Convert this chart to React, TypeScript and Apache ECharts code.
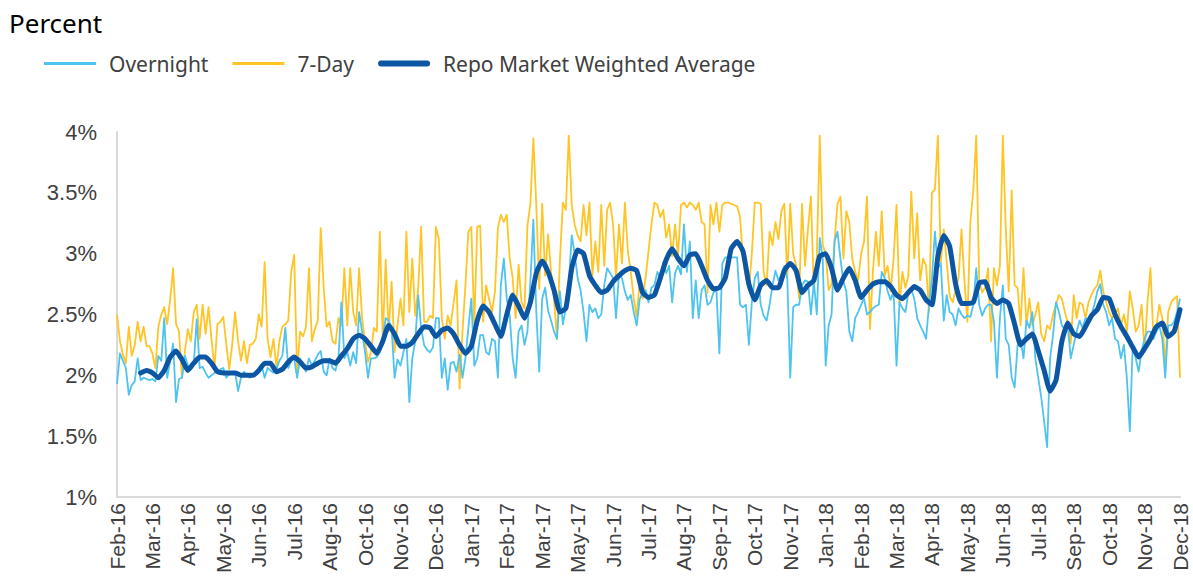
import React, { useEffect, useRef } from "react";
import * as echarts from "echarts";

// X tick labels (one label every STEP daily points)
const tickLabels = [
  "Feb-16", "Mar-16", "Apr-16", "May-16", "Jun-16", "Jul-16", "Aug-16", "Oct-16", "Nov-16", "Dec-16",
  "Jan-17", "Feb-17", "Mar-17", "May-17", "Jun-17", "Jul-17", "Aug-17", "Sep-17", "Oct-17", "Nov-17",
  "Jan-18", "Feb-18", "Mar-18", "Apr-18", "May-18", "Jun-18", "Jul-18", "Sep-18", "Oct-18", "Nov-18",
  "Dec-18",
];
const STEP = 12;

// Overnight rate, percent
const overnight = [
  1.93,2.18,2.12,2.06,1.84,1.92,1.95,2.14,1.96,1.98,
  1.97,1.96,1.97,1.95,2.16,2.12,2.47,1.98,2.12,2.26,
  1.78,1.97,1.98,2.16,2.08,2.05,2.10,2.46,2.06,2.07,
  2.02,1.98,2.00,2.02,2.03,2.05,2.06,1.98,2.01,2.02,
  2.03,1.87,1.98,2.03,2.00,1.98,2.00,2.02,2.04,2.08,
  1.98,2.06,2.04,2.02,2.05,2.12,2.16,2.39,2.06,2.12,
  2.14,1.98,2.14,2.08,2.03,2.14,2.08,2.12,2.17,2.20,
  2.03,2.00,2.14,
  2.06,2.04,2.14,2.60,2.14,2.19,2.08,2.19,2.10,2.52,
  2.36,2.19,1.98,2.14,2.14,2.15,2.19,2.30,2.47,2.45,
  2.39,1.98,2.13,2.08,2.19,2.30,1.78,2.14,2.28,2.66,
  2.39,2.25,2.21,2.19,2.23,2.47,2.47,1.98,2.14,1.88,
  2.10,2.11,2.03,2.17,1.98,2.14,2.39,2.63,2.08,2.14,
  2.33,2.33,2.19,2.17,2.30,2.28,1.98,2.74,2.96,2.63,
  2.49,2.14,1.98,2.36,2.41,2.25,2.36,2.77,3.28,2.52,
  2.03,2.63,
  2.72,2.53,2.45,2.36,2.30,2.69,2.42,2.55,2.75,3.15,
  3.00,2.80,2.70,2.52,2.28,2.58,2.52,2.55,2.47,2.50,
  2.74,2.88,2.84,2.80,2.47,2.83,2.80,2.69,2.62,2.66,
  2.52,2.41,2.62,2.69,2.70,2.60,2.72,2.74,2.85,2.80,
  2.93,2.84,2.90,2.60,2.84,2.90,2.83,3.24,2.85,3.10,
  2.47,2.78,2.47,2.70,2.74,2.58,2.60,2.68,2.70,2.18,
  2.92,2.97,2.97,2.97,2.97,2.97,2.58,2.56,2.58,2.25,
  2.60,2.80,2.85,
  2.58,2.49,2.45,2.58,2.74,2.86,2.78,2.83,2.90,2.80,
  1.98,2.56,2.58,2.58,2.74,2.78,2.77,2.50,2.77,2.50,
  3.13,2.96,2.08,2.41,2.50,3.10,3.18,2.96,2.77,2.69,
  2.36,2.28,2.47,2.52,2.58,2.63,2.50,2.52,2.55,2.57,
  2.58,2.85,2.80,2.69,2.62,2.69,2.08,2.60,2.55,2.52,
  2.68,2.71,2.63,2.47,2.41,2.36,2.30,2.58,2.80,3.18,
  2.88,2.92,2.45,2.66,2.52,2.50,2.41,2.55,2.50,2.47,
  2.49,2.48,
  2.58,2.88,2.58,2.49,2.55,2.58,2.58,2.44,1.98,2.47,
  2.74,2.30,2.25,1.98,1.90,2.25,2.30,2.14,2.45,2.39,
  2.52,2.14,1.98,1.82,1.62,1.41,2.14,2.33,2.60,2.52,
  2.41,2.38,2.40,2.14,2.25,2.36,2.45,2.39,2.47,2.44,
  2.50,2.58,2.69,2.75,2.58,2.52,2.41,2.47,2.30,2.28,
  2.14,2.25,1.98,1.54,2.25,2.14,2.03,2.20,2.30,2.36,
  2.36,2.30,2.36,2.41,2.30,1.98,2.41,2.41,2.44,2.52,
  2.63,
];

// 7-Day rate, percent
const sevenDay = [
  2.50,2.28,2.17,2.10,2.40,2.16,2.25,2.44,2.28,2.40,
  2.24,2.24,2.18,2.06,2.40,2.50,2.56,2.42,2.62,2.88,
  2.42,2.36,1.98,2.20,2.38,2.28,2.52,2.58,2.30,2.58,
  2.34,2.56,2.30,2.05,2.42,2.44,2.48,2.26,2.05,2.25,
  2.52,2.28,2.12,2.28,2.10,2.25,2.26,2.30,2.50,2.40,
  2.93,2.30,2.15,2.30,2.06,2.28,2.40,2.42,2.45,2.85,
  2.99,2.02,2.36,2.32,2.40,2.88,2.28,2.38,2.45,3.21,
  2.72,2.40,2.44,
  2.28,2.26,2.47,2.41,2.88,2.41,2.88,2.52,2.41,2.88,
  2.47,2.28,2.11,2.19,2.39,2.36,3.18,2.30,2.95,2.36,
  2.77,2.19,2.41,2.63,2.41,3.18,2.52,2.96,2.49,2.71,
  3.22,2.44,2.44,2.49,2.47,3.22,3.12,2.47,2.30,2.49,
  2.41,2.60,2.78,1.89,2.36,2.74,3.18,3.22,2.41,3.22,
  3.23,2.44,2.74,2.63,2.52,2.69,3.21,3.32,3.26,3.32,
  2.96,2.80,2.47,2.91,2.60,2.55,3.23,3.41,3.95,3.40,
  2.71,3.41,
  2.82,3.16,2.85,2.63,2.30,2.95,3.42,3.36,3.97,3.40,
  3.24,3.15,3.10,3.40,3.15,3.42,2.82,3.10,2.85,3.40,
  2.90,3.36,3.42,3.24,2.80,3.24,2.92,3.42,3.02,2.85,
  2.63,2.48,2.77,2.63,2.80,3.02,3.24,3.42,3.40,3.30,
  3.36,3.13,3.24,2.98,3.24,2.98,3.40,3.42,3.38,3.42,
  3.40,3.36,3.42,3.26,3.24,2.68,3.40,3.24,3.42,3.18,
  3.40,3.42,3.42,3.41,3.40,3.39,3.30,2.96,2.80,2.70,
  3.00,3.42,3.42,
  3.41,2.85,2.74,3.18,3.07,3.26,3.12,3.35,3.41,2.80,
  3.41,3.00,2.90,2.63,3.41,2.90,3.20,3.47,2.70,2.98,
  3.97,3.07,3.00,2.70,2.75,3.10,3.41,3.47,2.96,3.35,
  3.26,2.96,2.85,2.78,3.00,3.10,3.47,2.38,2.85,3.18,
  2.90,3.35,2.82,2.90,2.69,2.96,3.40,2.58,2.85,2.72,
  2.82,3.51,2.96,3.33,2.78,2.96,2.90,2.52,3.50,3.53,
  3.97,2.93,3.20,2.93,2.65,2.60,2.70,2.80,3.20,2.78,
  2.44,3.26,
  3.52,3.97,2.77,2.68,2.72,2.88,2.28,2.88,2.74,2.90,
  3.97,3.20,2.69,3.52,2.74,2.72,2.41,2.88,2.41,2.63,
  2.41,2.50,2.60,2.34,2.28,2.41,2.38,2.50,2.58,2.66,
  2.63,2.52,2.43,2.26,2.66,2.47,2.60,2.58,2.47,2.60,
  2.66,2.71,2.74,2.86,2.69,2.60,2.52,2.47,2.50,2.55,
  2.41,2.50,2.36,2.69,2.55,2.36,2.41,2.58,2.19,2.60,
  2.88,2.30,2.40,2.58,2.47,2.08,2.52,2.60,2.63,2.65,
  1.98,
];

// Repo market weighted average, percent (coarser sampling, own hidden axis)
const weightedAvg = [
  null, null, null, null,
  2.02,2.04,2.02,1.98,2.04,2.15,2.20,2.13,2.04,2.10,2.15,2.15,2.10,2.03,2.02,2.02,
  2.02,2.00,2.00,2.00,2.04,2.10,2.10,2.03,2.05,2.11,2.15,2.11,2.06,2.07,2.10,2.12,2.12,
  2.10,2.16,2.22,2.30,2.33,2.30,2.24,2.18,2.28,2.41,2.34,2.24,2.24,2.27,2.34,2.40,2.39,2.32,
  2.37,2.39,2.34,2.25,2.18,2.24,2.45,2.57,2.52,2.42,2.32,2.50,2.66,2.57,2.47,2.60,2.84,2.94,
  2.85,2.70,2.52,2.55,2.88,3.03,3.00,2.82,2.74,2.68,2.70,2.77,2.82,2.86,2.88,2.86,2.68,2.64,
  2.66,2.80,2.95,3.04,2.96,2.90,2.99,3.00,2.90,2.78,2.71,2.72,2.80,3.04,3.10,3.02,2.75,2.62,
  2.74,2.78,2.72,2.72,2.86,2.92,2.86,2.68,2.74,2.78,2.98,3.00,2.88,2.70,2.80,2.88,2.78,2.64,
  2.70,2.75,2.77,
  2.77,2.73,2.66,2.63,2.68,2.73,2.70,2.62,2.58,2.98,3.15,3.06,2.75,2.59,2.59,
  2.60,2.76,2.77,2.64,2.59,2.62,2.59,2.42,2.25,2.30,2.34,2.20,2.04,1.87,1.96,2.28,2.43,2.34,
  2.32,2.40,2.49,2.54,2.64,2.63,2.50,2.40,2.32,2.23,2.15,2.22,2.30,2.40,2.43,2.32,2.36,2.54,
];

const seriesNames = ["Overnight", "7-Day", "Repo Market Weighted Average"];
const colors = { overnight: "#4FC3EF", sevenDay: "#FFC425", wa: "#0D56A3" };

export default function App() {
  const ref = useRef<HTMLDivElement>(null);

  useEffect(() => {
    if (!ref.current) return;
    const chart = echarts.init(ref.current, undefined, { renderer: "svg" });
    const dailyCats = overnight.map((_, i) => `d${i}`);
    const waCats = weightedAvg.map((_, j) => `w${j}`);
    const option: any = {
      animation: false,
      backgroundColor: "#ffffff",
      title: {
        text: "Percent",
        left: 4,
        top: 5,
        textStyle: { fontFamily: "Noto Sans", fontSize: 26, fontWeight: "normal", color: "#000000" },
      },
      legend: {
        left: 39,
        top: 48,
        itemWidth: 52,
        itemHeight: 14,
        itemGap: 24,
        symbolKeepAspect: true,
        textStyle: { fontFamily: "Noto Sans", fontSize: 21, color: "#404040", padding: [0, 0, 0, 8] },
        data: [
          { name: seriesNames[0], icon: "path://M0 0h52v3H0z", itemStyle: { color: colors.overnight } },
          { name: seriesNames[1], icon: "path://M0 0h52v3H0z", itemStyle: { color: colors.sevenDay } },
          { name: seriesNames[2], icon: "path://M3 0h46a3 3 0 0 1 0 6H3a3 3 0 0 1 0-6z", itemStyle: { color: colors.wa } },
        ],
      },
      grid: { left: 117, right: 13, top: 132, bottom: 91 },
      xAxis: [
        {
          type: "category",
          data: dailyCats,
          boundaryGap: false,
          axisTick: { show: false },
          axisLine: { lineStyle: { color: "#d9d9d9", width: 2 } },
          splitLine: { show: false },
          axisLabel: {
            interval: STEP - 1,
            rotate: 90,
            margin: 6,
            fontFamily: "Liberation Sans",
            fontSize: 21,
            color: "#404040",
            formatter: (_v: string, i: number) => tickLabels[Math.round(i / STEP)] ?? "",
          },
        },
        { type: "category", data: waCats, boundaryGap: false, show: false },
      ],
      yAxis: {
        type: "value",
        min: 1,
        max: 4,
        interval: 0.5,
        splitLine: { show: false },
        axisTick: { show: false },
        axisLine: { show: true, lineStyle: { color: "#d9d9d9", width: 2 } },
        axisLabel: {
          formatter: (v: number) => `${v}%`,
          fontFamily: "Liberation Sans",
          fontSize: 22,
          color: "#404040",
          margin: 20,
        },
      },
      series: [
        {
          name: seriesNames[1],
          type: "line",
          xAxisIndex: 0,
          data: sevenDay,
          showSymbol: false,
          symbol: "none",
          itemStyle: { color: colors.sevenDay },
          lineStyle: { color: colors.sevenDay, width: 1.8, join: "round" },
        },
        {
          name: seriesNames[0],
          type: "line",
          xAxisIndex: 0,
          data: overnight,
          showSymbol: false,
          symbol: "none",
          itemStyle: { color: colors.overnight },
          lineStyle: { color: colors.overnight, width: 1.8, join: "round" },
        },
        {
          name: seriesNames[2],
          type: "line",
          xAxisIndex: 1,
          data: weightedAvg,
          smooth: 0.15,
          showSymbol: false,
          symbol: "none",
          itemStyle: { color: colors.wa },
          lineStyle: { color: colors.wa, width: 5, join: "round", cap: "round" },
        },
      ],
    };
    chart.setOption(option);
    return () => chart.dispose();
  }, []);

  return (
    <div
      ref={ref}
      style={{ position: "absolute", left: 0, top: 0, width: 1193, height: 588 }}
    />
  );
}
